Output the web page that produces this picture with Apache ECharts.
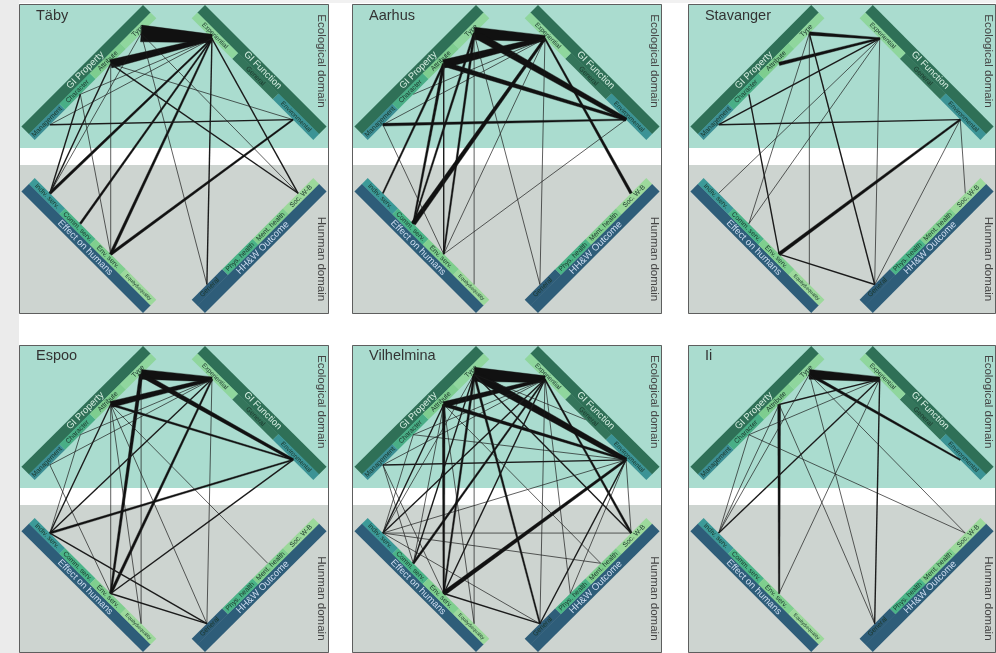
<!DOCTYPE html>
<html>
<head>
<meta charset="utf-8">
<script src="https://cdn.jsdelivr.net/npm/echarts@6/dist/echarts.min.js"></script>
<style>
html,body{margin:0;padding:0;background:#ffffff;}
#chart{width:996px;height:653px;}
</style>
</head>
<body>
<div id="chart"></div>
<script>
// ---- data ----
const cities = ['Täby', 'Aarhus', 'Stavanger', 'Espoo', 'Vilhelmina', 'Ii'];
const domains = ['Ecological domain', 'Hunman domain'];
const groups = ['GI Property', 'GI Function', 'Effect on humans', 'HH&W Outcome'];
const propertyCats = ['Management', 'Character', 'Attribute', 'Type'];
const functionCats = ['Environmental', 'General', 'Experiential'];
const effectCats = ['Indiv. serv.', 'Comm. serv.', 'Env. serv.', 'Equity&equality'];
const outcomeCats = ['Soc. W-B', 'Ment. health', 'Phys. health', 'General'];

// node codes, same order as the category lists above
const propertyCodes = ['Man', 'Cha', 'Att', 'Typ'];
const functionCodes = ['Env', 'FGe', 'Exp'];
const effectCodes = ['Ind', 'Com', 'EnS', 'Equ'];
const outcomeCodes = ['Soc', 'Men', 'Phy', 'HGe'];

// links: [wide end, narrow end, number of co-occurrences]
const tabyLinks = [
  ['Typ', 'Exp', 24], ['Att', 'Exp', 12], ['Ind', 'Exp', 4], ['Com', 'Exp', 3],
  ['EnS', 'Exp', 4], ['HGe', 'Exp', 2], ['Soc', 'Exp', 2], ['Man', 'Exp', 1],
  ['Cha', 'Exp', 1], ['Att', 'Soc', 2], ['Att', 'Ind', 2], ['Att', 'EnS', 1],
  ['Att', 'Env', 1], ['Cha', 'Ind', 2], ['Cha', 'EnS', 1], ['Typ', 'HGe', 1],
  ['Typ', 'Soc', 1], ['Typ', 'Ind', 1], ['Man', 'Env', 2], ['EnS', 'Env', 4]
];
const aarhusLinks = [
  ['Typ', 'Exp', 18], ['Att', 'Exp', 12], ['Typ', 'Env', 11], ['Att', 'Env', 7],
  ['Com', 'Exp', 7], ['Soc', 'Exp', 4], ['HGe', 'Exp', 1], ['Man', 'Exp', 1],
  ['Cha', 'Exp', 1], ['EnS', 'Exp', 1], ['Man', 'Env', 4], ['Att', 'Ind', 3],
  ['Att', 'Com', 4], ['Typ', 'Com', 3], ['Typ', 'EnS', 3], ['Att', 'EnS', 2],
  ['Typ', 'Equ', 1], ['Typ', 'HGe', 1], ['Man', 'EnS', 1], ['EnS', 'Env', 1]
];
const stavangerLinks = [
  ['Typ', 'Exp', 5], ['Att', 'Exp', 5], ['Man', 'Exp', 2], ['Man', 'Env', 2],
  ['Typ', 'Com', 1], ['Typ', 'Equ', 1], ['Typ', 'HGe', 2], ['Cha', 'EnS', 2],
  ['HGe', 'Exp', 1], ['Ind', 'Exp', 1], ['Com', 'Exp', 1], ['EnS', 'Env', 5],
  ['HGe', 'Env', 1], ['Soc', 'Env', 1], ['EnS', 'HGe', 2]
];
const espooLinks = [
  ['Typ', 'Exp', 14], ['Att', 'Exp', 9], ['Typ', 'Env', 7], ['Att', 'Env', 3],
  ['Typ', 'EnS', 5], ['EnS', 'Exp', 4], ['Ind', 'Exp', 2], ['HGe', 'Exp', 1],
  ['Cha', 'Exp', 1], ['Man', 'Exp', 1], ['Att', 'Ind', 2], ['Att', 'EnS', 1],
  ['Att', 'Equ', 1], ['Att', 'HGe', 1], ['Att', 'Men', 1], ['Ind', 'Env', 3],
  ['EnS', 'Env', 2], ['Ind', 'HGe', 2], ['EnS', 'HGe', 2], ['Typ', 'Equ', 1],
  ['Cha', 'Ind', 1], ['Man', 'EnS', 1]
];
const vilhelminaLinks = [
  ['Typ', 'Exp', 20], ['Att', 'Exp', 8], ['Typ', 'Env', 12], ['Att', 'Env', 5],
  ['Typ', 'FGe', 1], ['Man', 'Exp', 1], ['Cha', 'Exp', 1], ['Ind', 'Exp', 2],
  ['Com', 'Exp', 3], ['EnS', 'Exp', 2], ['HGe', 'Exp', 1], ['Phy', 'Exp', 1],
  ['Soc', 'Exp', 3], ['Typ', 'Ind', 1], ['Typ', 'Com', 2], ['Typ', 'EnS', 3],
  ['Typ', 'HGe', 3], ['Typ', 'Soc', 2], ['Typ', 'Equ', 1], ['Att', 'Ind', 2],
  ['Att', 'EnS', 4], ['Att', 'Com', 1], ['Att', 'Equ', 1], ['Att', 'Men', 1],
  ['Man', 'Env', 2], ['Man', 'Com', 1], ['Man', 'EnS', 1], ['Cha', 'Env', 1],
  ['EnS', 'Env', 6], ['Ind', 'Env', 1], ['HGe', 'Env', 2], ['Soc', 'Env', 1],
  ['Phy', 'Env', 1], ['Ind', 'Soc', 1], ['Ind', 'Men', 1], ['Ind', 'HGe', 1],
  ['EnS', 'HGe', 2], ['Cha', 'Ind', 1]
];
const iiLinks = [
  ['Typ', 'Exp', 14], ['Typ', 'Env', 4], ['Att', 'EnS', 4], ['Att', 'Exp', 2],
  ['Cha', 'Exp', 1], ['Ind', 'Exp', 2], ['EnS', 'Exp', 1], ['HGe', 'Exp', 2],
  ['Typ', 'Ind', 1], ['Typ', 'HGe', 1], ['Typ', 'Soc', 1], ['Cha', 'Ind', 1],
  ['Cha', 'Soc', 1], ['Att', 'Ind', 1], ['Att', 'HGe', 1]
];
const cityLinks = [tabyLinks, aarhusLinks, stavangerLinks, espooLinks, vilhelminaLinks, iiLinks];

// ---- layout & style ----
const SIZE = 310, C = 155, R2 = Math.SQRT2;
const PANEL_LEFT = [19, 352, 688];
const PANEL_TOP = [4, 345];
const BAND = { tealEnd: 144, greyStart: 161 };
const BAR = { inner: 112, light: 8.2, dark: 10.6, t0: -85, t1: 87 };
const BAR_FLIP = [[1, 1], [-1, 1], [1, -1], [-1, -1]];
const WIDTH_PER_UNIT = 0.7, TAPER = 0.5;
const FONT = '"Liberation Sans", Arial, Helvetica, sans-serif';

const barCats = [propertyCats, functionCats, effectCats, outcomeCats];
const barCodes = [propertyCodes, functionCodes, effectCodes, outcomeCodes];
const BAR_COLOR = ['#2f7057', '#2f7057', '#2e5d79', '#2e5d79'];
const BAR_TEXT = ['#d6eee2', '#d6eee2', '#cddcf0', '#cddcf0'];
const SEG_COLOR = [
  ['#3c8f95', '#49ae86', '#7ecd8f', '#8fd69d'],
  ['#3b9395', '#34755b', '#8fd69d'],
  ['#3c9a98', '#4ab487', '#7fcf8e', '#9cd99b'],
  ['#9cd99b', '#7fcf8e', '#4ab487', '#2e5d79']
];
const SEG_FONT = { 'Equity&equality': 5, 'Environmental': 6.3, 'Experiential': 6.5 };

// point on a bar: t runs along the bar, d is distance from the panel centre
function barPoint(b, t, d) {
  const f = BAR_FLIP[b];
  return [C + f[0] * (t - d) / R2, C + f[1] * (-t - d) / R2];
}
function segCentre(b, i) {
  const n = barCats[b].length, L = BAR.t1 - BAR.t0;
  return BAR.t0 + (i + 0.5) * L / n;
}
const nodeCodes = [];
const nodePos = [];
barCodes.forEach((codes, b) => codes.forEach((c, i) => {
  nodeCodes.push(c);
  nodePos.push(barPoint(b, segCentre(b, i), BAR.inner));
}));

// ---- renderers ----
function quad(api, b, t0, t1, d0, d1) {
  return [barPoint(b, t0, d0), barPoint(b, t1, d0), barPoint(b, t1, d1), barPoint(b, t0, d1)]
    .map(p => api.coord(p));
}

function makeBackground(cityIdx) {
  return function (params, api) {
    const tl = api.coord([0, 0]), br = api.coord([SIZE, SIZE]);
    const w = br[0] - tl[0];
    const y1 = api.coord([0, BAND.tealEnd])[1], y2 = api.coord([0, BAND.greyStart])[1];
    const titleAt = api.coord([17, 19]);
    const ecoAt = api.coord([302, 57]);
    const humAt = api.coord([302, 255]);
    return {
      type: 'group',
      children: [
        { type: 'rect', shape: { x: tl[0], y: tl[1], width: w, height: y1 - tl[1] }, style: { fill: '#aadccf' } },
        { type: 'rect', shape: { x: tl[0], y: y1, width: w, height: y2 - y1 }, style: { fill: '#ffffff' } },
        { type: 'rect', shape: { x: tl[0], y: y2, width: w, height: br[1] - y2 }, style: { fill: '#cdd4d0' } },
        { type: 'rect', shape: { x: tl[0] + 0.5, y: tl[1] + 0.5, width: w - 1, height: br[1] - tl[1] - 1 },
          style: { fill: 'none', stroke: '#5e5e5e', lineWidth: 1 } },
        { type: 'text', x: titleAt[0], y: titleAt[1],
          style: { text: cities[cityIdx], fill: '#333333', font: '14.5px ' + FONT, align: 'left', verticalAlign: 'bottom' } },
        { type: 'text', x: ecoAt[0], y: ecoAt[1], rotation: -Math.PI / 2,
          style: { text: domains[0], fill: '#444444', font: '11.5px ' + FONT, align: 'center', verticalAlign: 'middle' } },
        { type: 'text', x: humAt[0], y: humAt[1], rotation: -Math.PI / 2,
          style: { text: domains[1], fill: '#444444', font: '11.5px ' + FONT, align: 'center', verticalAlign: 'middle' } }
      ]
    };
  };
}

function renderBar(params, api) {
  const b = api.value(0);
  const f = BAR_FLIP[b];
  const rot = f[0] * f[1] * Math.PI / 4;
  const dIn = BAR.inner, dMid = BAR.inner + BAR.light, dOut = dMid + BAR.dark;
  const children = [
    { type: 'polygon', shape: { points: quad(api, b, BAR.t0, BAR.t1, dMid - 0.3, dOut) }, style: { fill: BAR_COLOR[b] } }
  ];
  const cats = barCats[b], n = cats.length, L = (BAR.t1 - BAR.t0) / n;
  cats.forEach((name, i) => {
    const ta = BAR.t0 + i * L, tb = ta + L;
    children.push({ type: 'polygon', shape: { points: quad(api, b, ta, tb, dIn, dMid) }, style: { fill: SEG_COLOR[b][i] } });
  });
  cats.forEach((name, i) => {
    const p = api.coord(barPoint(b, segCentre(b, i), dIn + BAR.light / 2));
    const fs = SEG_FONT[name] || 6.8;
    children.push({ type: 'text', x: p[0], y: p[1], rotation: rot,
      style: { text: name, fill: '#1b372c', font: fs + 'px ' + FONT, align: 'center', verticalAlign: 'middle' } });
  });
  const mp = api.coord(barPoint(b, 0, dMid + BAR.dark / 2));
  children.push({ type: 'text', x: mp[0], y: mp[1], rotation: rot,
    style: { text: groups[b], fill: BAR_TEXT[b], font: '9.5px ' + FONT, align: 'center', verticalAlign: 'middle' } });
  return { type: 'group', children };
}

function renderLink(params, api) {
  const a = api.coord(nodePos[api.value(0)]);
  const c = api.coord(nodePos[api.value(1)]);
  const w = api.value(2) * WIDTH_PER_UNIT;
  if (w < 2) {
    return { type: 'line', shape: { x1: a[0], y1: a[1], x2: c[0], y2: c[1] },
      style: { stroke: '#1b1b1b', lineWidth: w } };
  }
  const dx = c[0] - a[0], dy = c[1] - a[1], len = Math.hypot(dx, dy);
  const nx = -dy / len, ny = dx / len;
  const w1 = Math.max(1.3, w * TAPER);
  return {
    type: 'polygon',
    shape: { points: [
      [a[0] + nx * w / 2, a[1] + ny * w / 2],
      [c[0] + nx * w1 / 2, c[1] + ny * w1 / 2],
      [c[0] - nx * w1 / 2, c[1] - ny * w1 / 2],
      [a[0] - nx * w / 2, a[1] - ny * w / 2]
    ] },
    style: { fill: '#111111', stroke: '#111111', lineWidth: 0.4 }
  };
}

// ---- option ----
const grids = [], xAxes = [], yAxes = [], series = [];
cities.forEach((city, k) => {
  const col = k % 3, row = Math.floor(k / 3);
  grids.push({ left: PANEL_LEFT[col], top: PANEL_TOP[row], width: SIZE, height: SIZE });
  xAxes.push({ gridIndex: k, type: 'value', min: 0, max: SIZE, show: false });
  yAxes.push({ gridIndex: k, type: 'value', min: 0, max: SIZE, inverse: true, show: false });
  series.push({
    type: 'custom', name: city + ' frame', xAxisIndex: k, yAxisIndex: k, z: 1, silent: true,
    data: [[0]], renderItem: makeBackground(k)
  });
  series.push({
    type: 'custom', name: city + ' groups', xAxisIndex: k, yAxisIndex: k, z: 2, silent: true,
    data: groups.map((g, i) => [i]), renderItem: renderBar
  });
  series.push({
    type: 'custom', name: city + ' links', xAxisIndex: k, yAxisIndex: k, z: 3, silent: true,
    data: cityLinks[k].map(l => [nodeCodes.indexOf(l[0]), nodeCodes.indexOf(l[1]), l[2]]),
    renderItem: renderLink
  });
});

const chart = echarts.init(document.getElementById('chart'), null, { renderer: 'canvas' });
chart.setOption({
  animation: false,
  backgroundColor: '#ffffff',
  graphic: [
    { type: 'rect', left: 0, top: 0, shape: { width: 19, height: 653 }, style: { fill: '#ebebeb' }, z: -10 },
    { type: 'rect', left: 19, top: 0, shape: { width: 977, height: 3 }, style: { fill: '#f1f1f1' }, z: -10 }
  ],
  grid: grids,
  xAxis: xAxes,
  yAxis: yAxes,
  series: series
});
</script>
</body>
</html>
